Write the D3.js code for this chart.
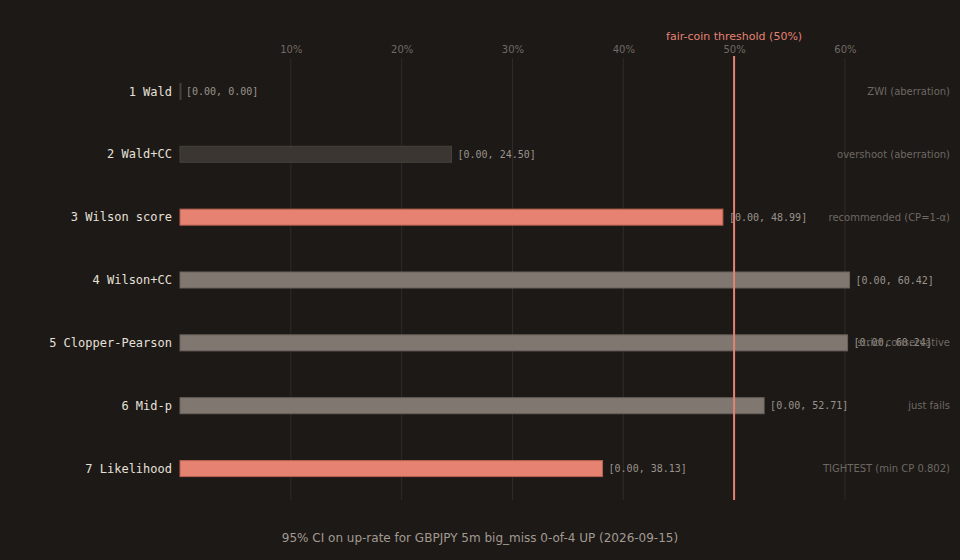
<!DOCTYPE html>
<html>
<head>
<meta charset="utf-8">
<script src="https://cdn.jsdelivr.net/npm/d3@7"></script>
<style>
  html, body { margin: 0; padding: 0; background: #1c1917; }
  svg { display: block; }
</style>
</head>
<body>
<div id="chart"></div>
<script>
// interval methods, upper bounds in percent (lower is always 0)
var methods = ['1 Wald', '2 Wald+CC', '3 Wilson score', '4 Wilson+CC', '5 Clopper-Pearson', '6 Mid-p', '7 Likelihood'];
var lowers = [0.00, 0.00, 0.00, 0.00, 0.00, 0.00, 0.00];
var uppers = [0.00, 24.50, 48.99, 60.42, 60.24, 52.71, 38.13];
var notes = ['ZWI (aberration)', 'overshoot (aberration)', 'recommended (CP=1-\u03b1)', '', 'strict conservative', 'just fails', 'TIGHTEST (min CP 0.802)'];
var kinds = ['aberr', 'aberr', 'pass', 'fail', 'fail', 'fail', 'pass'];
var tickValues = [10, 20, 30, 40, 50, 60];
var threshold = 50;
var title = '95% CI on up-rate for GBPJPY 5m big_miss 0-of-4 UP (2026-09-15)';

var width = 960, height = 560;
var mono = '"DejaVu Sans Mono", monospace',
    sans = '"DejaVu Sans", sans-serif';

var rows = methods.map(function(m, i) {
  return { name: m, lo: lowers[i], hi: uppers[i], note: notes[i], kind: kinds[i] };
});

var fillFor = { aberr: '#3b3632', pass: '#e58272', fail: '#807770' };
var strokeFor = { aberr: '#45403b', pass: '#b8604f', fail: '#6a625b' };

var svg = d3.select('#chart').append('svg')
    .attr('width', width)
    .attr('height', height);

svg.append('rect')
    .attr('width', width)
    .attr('height', height)
    .attr('fill', '#1c1917');

var xScale = d3.scaleLinear()
    .domain([0, d3.max(uppers) * 1.15])
    .range([180, 950]);

var yScale = d3.scaleBand()
    .domain(methods)
    .range([60, 500])
    .paddingInner(0.745)
    .paddingOuter(0.3725);

// grid
svg.append('g')
    .selectAll('line')
    .data(tickValues)
    .enter()
    .append('line')
    .attr('x1', function(d) { return xScale(d); })
    .attr('x2', function(d) { return xScale(d); })
    .attr('y1', 58)
    .attr('y2', 500)
    .attr('stroke', '#2f2b28')
    .attr('stroke-width', 1);

// top axis labels
var axisTop = svg.append('g')
    .attr('transform', 'translate(0,53)')
    .call(d3.axisTop(xScale)
      .tickValues(tickValues)
      .tickSize(0)
      .tickPadding(0)
      .tickFormat(function(d) { return d + '%'; }));
axisTop.select('.domain').remove();
axisTop.selectAll('text')
    .attr('fill', '#716a63')
    .style('font-family', sans)
    .style('font-size', '10px');

var g = svg.selectAll('.row')
    .data(rows)
    .enter()
    .append('g')
    .attr('class', 'row');

// zero-width intervals still get a hairline so they stay visible
g.append('rect')
    .attr('x', function(d) { return xScale(d.lo); })
    .attr('y', function(d) { return yScale(d.name); })
    .attr('width', function(d) { return Math.max(xScale(d.hi) - xScale(d.lo), 1); })
    .attr('height', yScale.bandwidth())
    .attr('fill', function(d) { return fillFor[d.kind]; })
    .attr('stroke', function(d) { return strokeFor[d.kind]; })
    .attr('stroke-width', 1);

g.append('text')
    .attr('x', 172)
    .attr('y', function(d) { return yScale(d.name) + yScale.bandwidth() / 2; })
    .attr('dy', '0.35em')
    .attr('text-anchor', 'end')
    .attr('fill', '#e6e0d8')
    .style('font-family', mono)
    .style('font-size', '12px')
    .text(function(d) { return d.name; });

g.append('text')
    .attr('x', function(d) { return xScale(d.hi) + 6; })
    .attr('y', function(d) { return yScale(d.name) + yScale.bandwidth() / 2; })
    .attr('dy', '0.35em')
    .attr('fill', '#9b938b')
    .style('font-family', mono)
    .style('font-size', '10px')
    .text(function(d) { return '[' + d.lo.toFixed(2) + ', ' + d.hi.toFixed(2) + ']'; });

g.append('text')
    .attr('x', 950)
    .attr('y', function(d) { return yScale(d.name) + yScale.bandwidth() / 2; })
    .attr('dy', '0.35em')
    .attr('text-anchor', 'end')
    .attr('fill', '#6f6862')
    .style('font-family', sans)
    .style('font-size', '10px')
    .text(function(d) { return d.note; });

// threshold
svg.append('line')
    .attr('x1', xScale(threshold))
    .attr('x2', xScale(threshold))
    .attr('y1', 56)
    .attr('y2', 500)
    .attr('stroke', '#e58272')
    .attr('stroke-width', 2);

svg.append('text')
    .attr('x', xScale(threshold))
    .attr('y', 40)
    .attr('text-anchor', 'middle')
    .attr('fill', '#e58272')
    .style('font-family', sans)
    .style('font-size', '11px')
    .text('fair-coin threshold (' + threshold + '%)');

svg.append('text')
    .attr('x', 480)
    .attr('y', 542)
    .attr('text-anchor', 'middle')
    .attr('fill', '#a39a90')
    .style('font-family', sans)
    .style('font-size', '12px')
    .text(title);
</script>
</body>
</html>
